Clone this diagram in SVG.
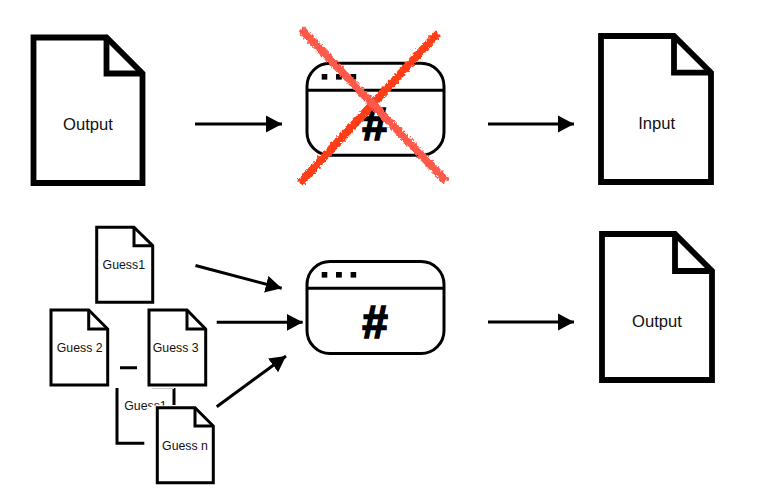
<svg xmlns="http://www.w3.org/2000/svg" width="781" height="492" viewBox="0 0 781 492">
<style>
text{font-family:"Liberation Sans",Arial,sans-serif;fill:#111;text-anchor:middle}
.big{font-size:16.6px}
.small{font-size:12.3px}
.doc{fill:#fff;stroke:#000;stroke-linejoin:miter}
.thick{stroke-width:5.8px}
.thin{stroke-width:3px}
.fold{fill:none;stroke:#000}
.app{fill:#fff;stroke:#000;stroke-width:3px}
.bar{fill:none;stroke:#000;stroke-width:3px}
.dot{fill:#000}
.hash{font-size:46px;font-weight:bold;fill:#000;stroke:#000;stroke-width:1.6px}
.arrow{fill:none;stroke:#000;stroke-width:3px;marker-end:url(#ah)}
.frag{fill:none;stroke:#000;stroke-width:3px}
.x1{stroke:#ff5a4a;stroke-width:8px;fill:none}
.x2{stroke:#ff3c14;stroke-width:8px;fill:none}
</style>
<defs>
<marker id="ah" markerUnits="userSpaceOnUse" markerWidth="18" markerHeight="20" refX="16" refY="10" orient="auto">
<path d="M0 1.500L16 10L0 18.500Z" fill="#000"/>
</marker>
<filter id="rough" x="-10%" y="-10%" width="120%" height="120%">
<feTurbulence type="fractalNoise" baseFrequency="0.4" numOctaves="2" seed="3"/>
<feDisplacementMap in="SourceGraphic" scale="5" xChannelSelector="R" yChannelSelector="G"/>
</filter>
</defs>
<rect width="781" height="492" fill="#fff"/>
<g id="node-output-top">
<path class="doc thick" d="M33.500 37.500H106.500L142.500 73.500V183H33.500Z"/>
<path class="fold thick" d="M106.500 37.500V73.500H142.500"/>
<text class="big" x="88" y="130">Output</text>
</g>
<g id="node-app-top">
<rect class="app" x="307" y="63.200" width="137" height="92" rx="23"/>
<path class="bar" d="M307 90.300H444"/>
<rect class="dot" x="321.700" y="74" width="5.600" height="5.600"/>
<rect class="dot" x="336" y="74" width="5.800" height="5.600"/>
<rect class="dot" x="350.600" y="74" width="5.600" height="5.600"/>
<text class="hash" x="375" y="140">#</text>
</g>
<g id="node-cross">
<path class="x2" filter="url(#rough)" d="M438 33L300 183"/>
<path class="x1" filter="url(#rough)" d="M301 29L446 181"/>
</g>
<g id="node-input">
<path class="doc thick" d="M601 36H674L711 72.700V182H601Z"/>
<path class="fold thick" d="M674 36V72.700H711"/>
<text class="big" x="656.700" y="129">Input</text>
</g>
<g id="node-guess-hidden">
<path class="frag" d="M120 367.700H137M117 388V443.300H144.300M174 388V405"/>
<path d="M152 388.500H174" stroke="#ccc" stroke-width="1" fill="none"/>
<text class="small" x="145.500" y="410">Guess1</text>
<path d="M139 414L153 405.500L172 405.500V416H139Z" fill="#fff"/>
</g>
<g id="node-guess1">
<path class="doc thin" d="M96.700 227.300H134L152.700 245.700V302.300H96.700Z"/>
<path class="fold thin" d="M134 227.300V245.700H152.700"/>
<text class="small" x="123.800" y="269">Guess1</text>
</g>
<g id="node-guess2">
<path class="doc thin" d="M51 310H88.700L107.700 329V385H51Z"/>
<path class="fold thin" d="M88.700 310V329H107.700"/>
<text class="small" x="79.700" y="352.300">Guess 2</text>
</g>
<g id="node-guess3">
<path class="doc thin" d="M149 310H187L205.700 329V385H149Z"/>
<path class="fold thin" d="M187 310V329H205.700"/>
<text class="small" x="175.700" y="352.300">Guess 3</text>
</g>
<g id="node-guessn">
<path class="doc thin" d="M157.300 407.700H195L213.300 426V482.700H157.300Z"/>
<path class="fold thin" d="M195 407.700V426H213.300"/>
<text class="small" x="185" y="450">Guess n</text>
</g>
<g id="node-app-bottom">
<rect class="app" x="307" y="261.500" width="137" height="92" rx="23"/>
<path class="bar" d="M307 288.300H444"/>
<rect class="dot" x="321.700" y="272" width="5.600" height="5.600"/>
<rect class="dot" x="336" y="272" width="5.800" height="5.600"/>
<rect class="dot" x="350.600" y="272" width="5.600" height="5.600"/>
<text class="hash" x="375" y="337.500">#</text>
</g>
<g id="node-output-bottom">
<path class="doc thick" d="M602 234H675L712 271V380H602Z"/>
<path class="fold thick" d="M675 234V271H712"/>
<text class="big" x="657" y="327">Output</text>
</g>
<g id="connectors">
<path class="arrow" d="M195 124H282"/>
<path class="arrow" d="M488 124H574"/>
<path class="arrow" d="M488 322H574"/>
<path class="arrow" d="M195.500 265.500L281.700 288.300"/>
<path class="arrow" d="M216.700 322.300H302.700"/>
<path class="arrow" d="M216.700 406.700L286 356"/>
</g>
</svg>
